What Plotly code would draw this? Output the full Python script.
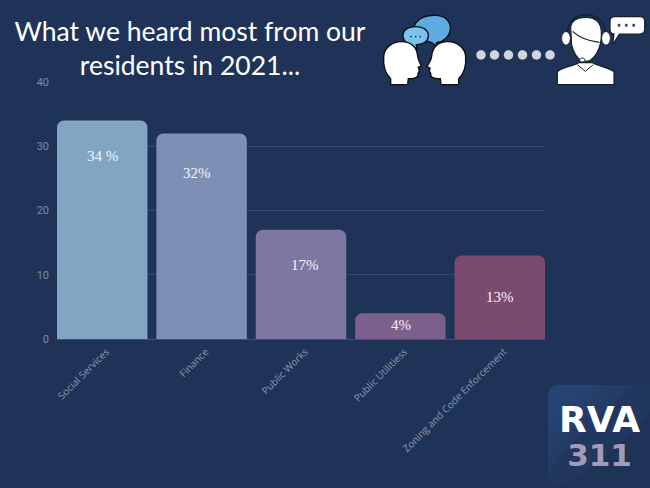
import re
import plotly.graph_objects as go

categories = ["Social Services", "Finance", "Public Works", "Public Utilitiess", "Zoning and Code Enforcement"]
values = [34, 32, 17, 4, 13]
bar_colors = ["#82a6c1", "#7e8fb6", "#7d77a2", "#7d5f8d", "#7b4a6f"]
value_labels = ["34 %", "32%", "17%", "4%", "13%"]
label_heights = [28.5, 25.8, 11.5, 2.2, 6.6]
label_shifts = [0, -5, 4, 1, 0]
y_ticks = [0, 10, 20, 30, 40]

W, H = 650, 488
L, R, T, B = 57, 105, 82, 149
BG = "#1f3358"


def to_paper(path):
    """Decorative icons are drawn in page pixels; convert to paper fractions."""
    def conv(m):
        x, y = float(m.group(1)), float(m.group(2))
        return f"{(x - L) / (W - L - R):.5f},{1 - (y - T) / (H - T - B):.5f}"
    return re.sub(r"(-?[\d.]+),(-?[\d.]+)", conv, path)


def icon(path, fill, line=None, width=0, ox=0, oy=0, s=1.0):
    def scale(m):
        return f"{float(m.group(1)) * s + ox:.2f},{float(m.group(2)) * s + oy:.2f}"
    p = re.sub(r"(-?[\d.]+),(-?[\d.]+)", scale, path)
    return dict(type="path", xref="paper", yref="paper", path=to_paper(p), fillcolor=fill,
                line=dict(color=line or "rgba(0,0,0,0)", width=width), layer="above")


def circle_path(cx, cy, rx, ry=None):
    ry = ry or rx
    k = 0.5523
    return (f"M{cx - rx},{cy} C{cx - rx},{cy - k * ry} {cx - k * rx},{cy - ry} {cx},{cy - ry} "
            f"C{cx + k * rx},{cy - ry} {cx + rx},{cy - k * ry} {cx + rx},{cy} "
            f"C{cx + rx},{cy + k * ry} {cx + k * rx},{cy + ry} {cx},{cy + ry} "
            f"C{cx - k * rx},{cy + ry} {cx - rx},{cy + k * ry} {cx - rx},{cy} Z")


shapes = []
Z = 1 / 3
# RVA 311 logo panel: layered corners fading from the top-left
for k, alpha in [(1.0, 0.12), (0.85, 0.12), (0.7, 0.12), (0.55, 0.12), (0.4, 0.12)]:
    w, h = 102 * k, 103 * k
    shapes.append(icon(f"M548,{385 + 10} C548,389 552,385 558,385 L{548 + w},385 "
                       f"C{548 + w * 0.6},{385 + h * 0.35} {548 + w * 0.3},{385 + h * 0.6} 548,{385 + h} Z"
                       if k < 1 else
                       "M548,395 C548,389 552,385 558,385 L650,385 L650,410 C630,440 590,470 556,488 L548,480 Z",
                       f"rgba(52,92,150,{alpha})"))

# two heads and speech bubbles (zoom coordinates, origin 375,10)
hz = dict(ox=375, oy=10, s=Z)
head_l = ("M47,224 L47,206 C30,190 24,165 26,140 C28,112 52,95 80,95 C108,95 126,112 128,138 "
          "C129,148 134,158 139,168 L130,172 C134,180 133,186 129,190 C131,200 124,207 100,206 L98,224 Z")
head_r = ("M251,224 L251,206 C268,190 274,165 272,140 C270,112 246,95 218,95 C190,95 172,112 170,138 "
          "C169,148 164,158 155,170 L165,174 C162,180 163,186 167,190 C165,200 172,207 196,206 L198,224 Z")
bubble_big = ("M118,48 C128,22 160,14 185,16 C212,18 228,36 226,58 C224,82 200,98 184,98 L186,110 "
              "L170,98 C150,92 118,80 118,48 Z")
bubble_small = ("M84,80 C82,62 98,50 122,50 C146,50 162,62 160,80 C158,96 142,104 124,104 L126,118 "
                "L108,104 C96,102 86,94 84,80 Z")
shapes += [icon(bubble_big, "#5dabe0", "#0c0f14", 1.4, **hz), icon(bubble_small, "#7cc2ee", "#0c0f14", 1.4, **hz),
           icon(head_l, "#ffffff", "#0c0f14", 1.4, **hz), icon(head_r, "#ffffff", "#0c0f14", 1.4, **hz)]
for cx in (108, 122, 136):
    shapes.append(icon(circle_path(cx, 80, 2.4), "#14202f", **hz))

# row of dots
for px in (481, 494.5, 508.5, 522.5, 536.5, 550):
    shapes.append(icon(circle_path(px, 55, 4.7), "#cfd6dc"))

# agent with headset (zoom coordinates, origin 470,10)
az = dict(ox=470, oy=10, s=Z)
shapes += [
    icon("M292,80 C290,35 315,15 347,15 C382,15 408,35 408,80", "rgba(0,0,0,0)", "#16202e", 1.4, **az),
    icon(circle_path(288, 85, 13, 20), "#ffffff", "#16202e", 0.8, **az),
    icon(circle_path(408, 85, 13, 20), "#ffffff", "#16202e", 0.8, **az),
    icon("M262,224 L262,186 C268,174 305,170 326,158 L368,158 C388,170 425,174 432,186 L432,224 Z",
         "#ffffff", "#16202e", 1.2, **az),
    icon("M302,50 C306,28 326,22 347,22 C372,22 392,34 394,64 C396,100 384,135 362,150 "
         "C350,156 340,156 328,148 C312,134 302,105 304,88 Z", "#ffffff", "#16202e", 1.2, **az),
    icon("M308,64 C325,80 345,92 388,97", "rgba(0,0,0,0)", "#16202e", 1.2, **az),
    icon("M322,164 L346,184 L370,164", "rgba(0,0,0,0)", "#16202e", 1.0, **az),
    icon(circle_path(337, 150, 8, 6), "#ffffff", "#16202e", 1.0, **az),
    icon("M420,34 C420,24 426,20 434,20 L510,20 C520,20 524,26 524,34 L524,58 C524,68 518,72 510,72 "
         "L448,72 L428,104 L432,72 C424,72 420,66 420,58 Z", "#ffffff", "#16202e", 1.2, **az),
]
for cx in (447, 469, 491):
    shapes.append(icon(circle_path(cx, 46, 4.5), "#3a4656", **az))

fig = go.Figure(go.Bar(
    x=categories, y=values, marker=dict(color=bar_colors, line=dict(width=0)),
    hoverinfo="x+y", showlegend=False,
))

annotations = [
    dict(x=c, y=h, text=t, xshift=dx, showarrow=False, yanchor="middle",
         font=dict(family="Liberation Serif", size=15, color="#f4f4f6"))
    for c, h, t, dx in zip(categories, label_heights, value_labels, label_shifts)
]
annotations += [
    dict(xref="paper", yref="paper", x=(599.5 - L) / (W - L - R), y=1 - (436 - T) / (H - T - B),
         text=("<b><span style='font-size:36px;color:#ffffff'>RVA</span><br>"
               "<span style='font-size:31px;color:#a39bb8'>311</span></b>"),
         showarrow=False, xanchor="center", yanchor="middle",
         font=dict(family="DejaVu Sans", size=26, color="#ffffff")),
]

fig.update_layout(
    width=W, height=H, autosize=False,
    margin=dict(l=L, r=R, t=T, b=B, pad=0),
    paper_bgcolor=BG, plot_bgcolor=BG,
    bargap=0.09, barcornerradius=7,
    title=dict(text="What we heard most from our<br>residents in 2021...", x=190 / W, xanchor="center",
               xref="container", y=1 - 41 / H, yref="container", yanchor="middle",
               font=dict(family="Lato", size=26.5, color="#ffffff")),
    font=dict(family="Open Sans", color="#8a97ad"),
    shapes=shapes, annotations=annotations,
    xaxis=dict(tickangle=-45, tickfont=dict(family="Open Sans", size=10, color="#8a97ad"),
               range=[-0.455, 4.455], ticklabelstandoff=2, ticklabelshift=4,
               showgrid=False, showline=True, linecolor="#3d5074", linewidth=1, ticks="", fixedrange=True),
    yaxis=dict(range=[0, 40], tickvals=y_ticks, tickfont=dict(family="Roboto", size=11, color="#7e8ca4"),
               gridcolor="#34496b", gridwidth=1, zeroline=False, showline=False, ticks="", ticklabelstandoff=7,
               fixedrange=True),
)

fig.write_html("out.html", config=dict(displayModeBar=False),
               post_script="document.body.style.margin='0';document.body.style.overflow='hidden';")
